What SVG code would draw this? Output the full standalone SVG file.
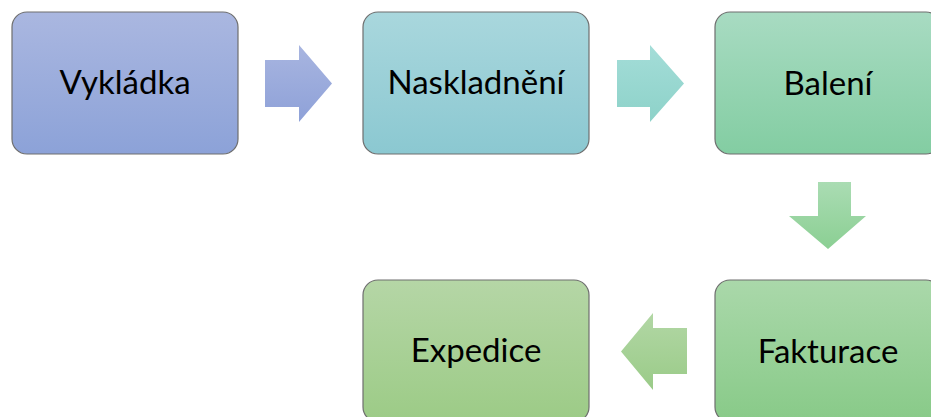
<svg xmlns="http://www.w3.org/2000/svg" width="931" height="417" viewBox="0 0 931 417">
  <style>
    .box { stroke: #6e6e6e; stroke-width: 1.2; }
    .label { font-family: Lato, "Open Sans", sans-serif; font-size: 33px; fill: #000; text-anchor: middle; }
  </style>
  <defs>
    <linearGradient id="g1" x1="0" y1="0" x2="0" y2="1"><stop offset="0" stop-color="#aab7e0"/><stop offset="1" stop-color="#8ca2d8"/></linearGradient>
    <linearGradient id="g2" x1="0" y1="0" x2="0" y2="1"><stop offset="0" stop-color="#a9d7dd"/><stop offset="1" stop-color="#8bc8d1"/></linearGradient>
    <linearGradient id="g3" x1="0" y1="0" x2="0" y2="1"><stop offset="0" stop-color="#a8dbc2"/><stop offset="1" stop-color="#83cda2"/></linearGradient>
    <linearGradient id="g4" x1="0" y1="0" x2="0" y2="1"><stop offset="0" stop-color="#aad8aa"/><stop offset="1" stop-color="#88ca88"/></linearGradient>
    <linearGradient id="g5" x1="0" y1="0" x2="0" y2="1"><stop offset="0" stop-color="#b5d6a6"/><stop offset="1" stop-color="#9ccb86"/></linearGradient>
    <linearGradient id="a1" x1="0" y1="0" x2="0" y2="1"><stop offset="0" stop-color="#a8b5e0"/><stop offset="1" stop-color="#8ea1d8"/></linearGradient>
    <linearGradient id="a2" x1="0" y1="0" x2="0" y2="1"><stop offset="0" stop-color="#a4ddd8"/><stop offset="1" stop-color="#8dd2c9"/></linearGradient>
    <linearGradient id="a3" x1="0" y1="0" x2="0" y2="1"><stop offset="0" stop-color="#aadcb3"/><stop offset="1" stop-color="#8bcf93"/></linearGradient>
    <linearGradient id="a4" x1="0" y1="0" x2="0" y2="1"><stop offset="0" stop-color="#b2d7a5"/><stop offset="1" stop-color="#9acb88"/></linearGradient>
  </defs>

  <!-- block arrows between steps -->
  <g id="connectors">
    <polygon points="265,60 299,60 299,45 332,83.5 299,122 299,107 265,107" fill="url(#a1)"/>
    <polygon points="617,60 650,60 650,45 684,83.5 650,122 650,107 617,107" fill="url(#a2)"/>
    <polygon points="818,182 851,182 851,216 866,216 828,249 789,216 818,216" fill="url(#a3)"/>
    <polygon points="687,328 653,328 653,313 621,351.5 653,390 653,374 687,374" fill="url(#a4)"/>
  </g>

  <g id="vykladka">
    <rect class="box" x="12" y="12" width="226" height="142" rx="15" fill="url(#g1)"/>
    <text class="label" x="125" y="94">Vykládka</text>
  </g>
  <g id="naskladneni">
    <rect class="box" x="363" y="12" width="226" height="142" rx="15" fill="url(#g2)"/>
    <text class="label" x="476" y="94">Naskladnění</text>
  </g>
  <g id="baleni">
    <rect class="box" x="715" y="12" width="226" height="142" rx="15" fill="url(#g3)"/>
    <text class="label" x="828" y="95">Balení</text>
  </g>
  <g id="fakturace">
    <rect class="box" x="715" y="280" width="226" height="142" rx="15" fill="url(#g4)"/>
    <text class="label" x="828" y="363">Fakturace</text>
  </g>
  <g id="expedice">
    <rect class="box" x="363" y="280" width="226" height="142" rx="15" fill="url(#g5)"/>
    <text class="label" x="476" y="362">Expedice</text>
  </g>
</svg>
